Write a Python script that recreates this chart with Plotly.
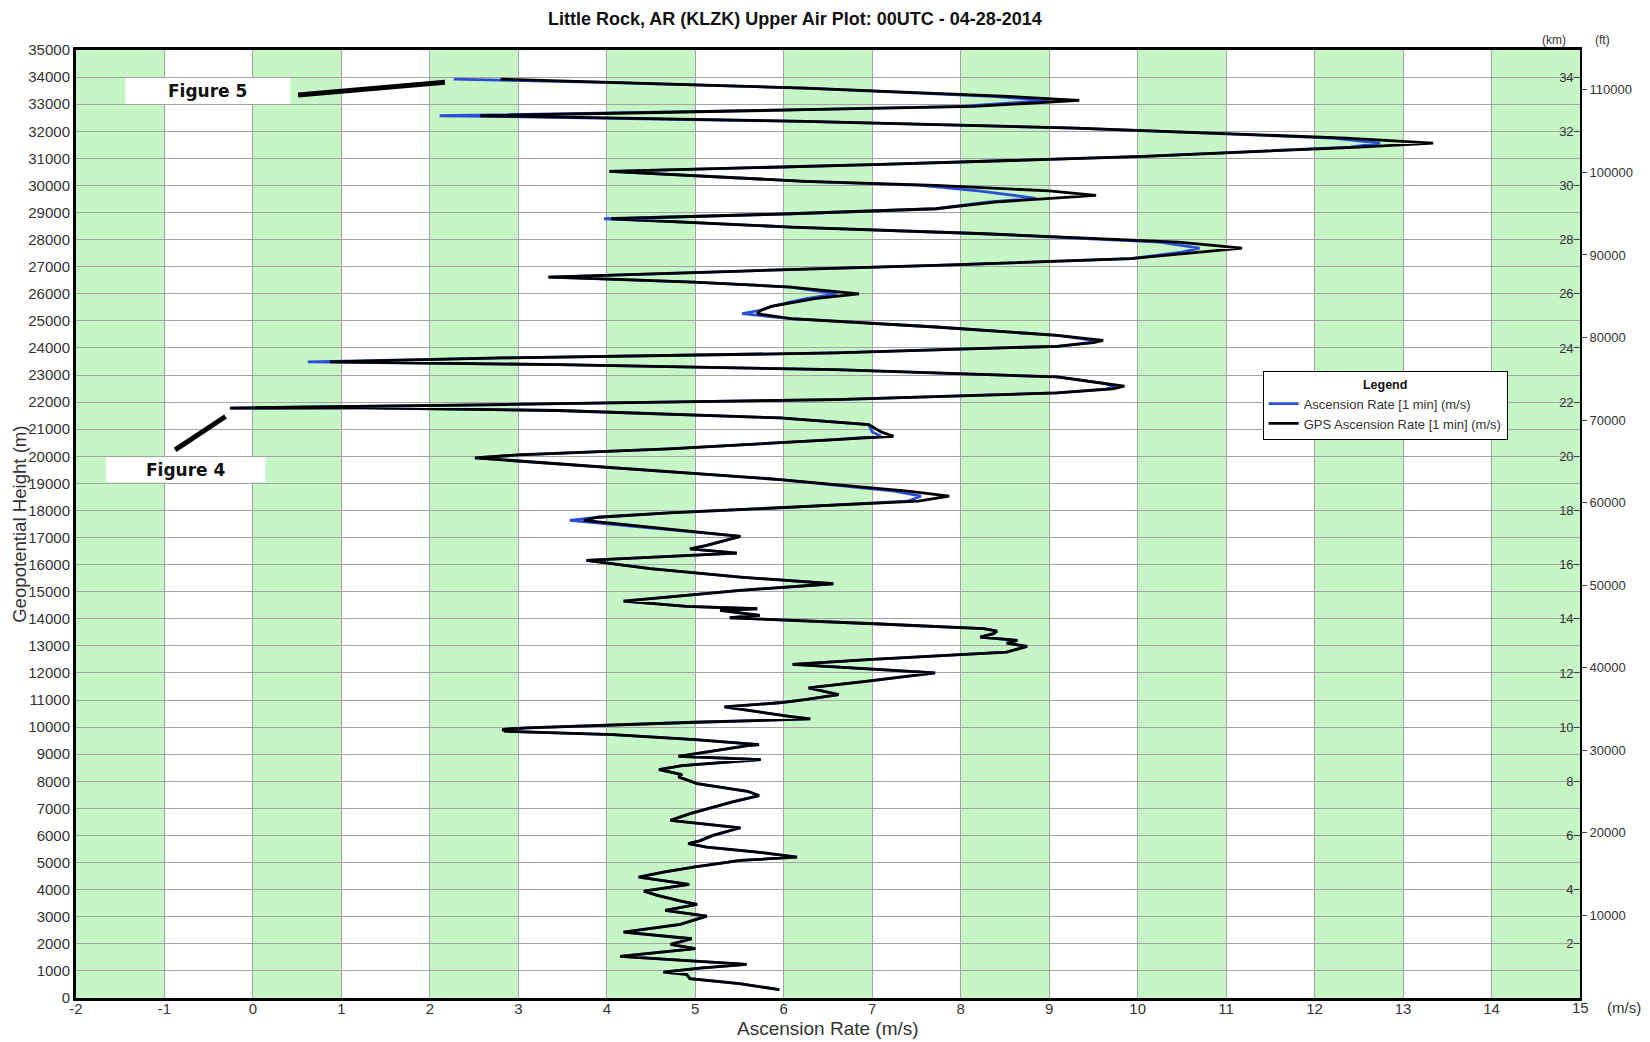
import plotly.graph_objects as go

# ---------------- data ----------------
heights_m = [310, 530, 712, 871, 957, 1100, 1240, 1535, 1820, 1978,
             2188, 2433, 2716, 3024, 3233, 3455, 3566, 3787, 3946, 4193,
             4463, 4647, 4832, 5078, 5200, 5387, 5571, 5700, 5800, 6002,
             6285, 6560, 6809, 7000, 7228, 7474, 7633, 7916, 8162, 8250,
             8433, 8580, 8802, 8925, 9319, 9356, 9540, 9724, 9850, 9920,
             9970, 10180, 10303, 10400, 10745, 10900, 11016, 11200, 11446, 11700,
             12000, 12320, 12500, 12773, 12981, 13100, 13200, 13326, 13450, 13547,
             13636, 13818, 13966, 14039, 14125, 14310, 14371, 14457, 14654, 15048,
             15294, 15540, 15850, 16155, 16426, 16585, 16708, 17040, 17631, 17750,
             17911, 18096, 18342, 18526, 18710, 19141, 19572, 19941, 20050, 20273,
             20617, 20740, 20900, 21170, 21417, 21690, 21786, 21780, 21910, 22094,
             22340, 22487, 22586, 22700, 22930, 23200, 23385, 23483, 23631, 23815,
             24061, 24200, 24280, 24465, 24773, 25080, 25265, 25400, 25535, 25818,
             26000, 26248, 26433, 26556, 26617, 26839, 27048, 27294, 27540, 27688,
             27909, 28216, 28462, 28708, 28770, 28954, 29139, 29385, 29520, 29631,
             29800, 30000, 30150, 30519, 30765, 31073, 31417, 31565, 31749, 32118,
             32364, 32524, 32573, 32795, 32918, 33139, 33287, 33594, 33803, 33926]

gps_rate = [5.95, 5.50, 4.94, 4.90, 4.64, 5.05, 5.58, 4.15, 5.00, 4.72,
            4.96, 4.19, 4.83, 5.13, 4.66, 5.02, 4.85, 4.57, 4.42, 4.93,
            4.36, 4.64, 4.98, 5.51, 6.15, 5.70, 5.13, 4.92, 5.05, 5.20,
            5.51, 4.72, 4.94, 5.15, 5.41, 5.72, 5.59, 5.02, 4.81, 4.85,
            4.59, 4.85, 5.74, 4.81, 5.59, 5.72, 5.00, 4.07, 2.85, 2.82,
            3.10, 5.00, 6.30, 6.06, 5.33, 5.95, 6.24, 6.62, 6.28, 6.95,
            7.71, 6.10, 7.00, 8.52, 8.75, 8.52, 8.64, 8.22, 8.37, 8.41,
            8.26, 7.02, 5.88, 5.39, 5.73, 5.28, 5.70, 4.90, 4.19, 5.51,
            6.56, 5.51, 4.49, 3.77, 5.47, 4.94, 5.13, 5.51, 3.74, 3.90,
            4.70, 5.96, 7.52, 7.87, 7.40, 5.96, 4.07, 2.51, 3.00, 4.70,
            6.58, 7.24, 7.10, 6.96, 5.96, 3.45, 1.25, -0.26, 2.82, 6.58,
            9.09, 9.72, 9.85, 9.60, 9.09, 6.58, 3.45, 0.87, 2.82, 6.58,
            9.09, 9.50, 9.61, 9.09, 7.72, 6.08, 5.70, 5.75, 5.86, 6.35,
            6.85, 6.08, 4.98, 3.89, 3.34, 5.53, 7.72, 9.92, 10.74, 11.18,
            10.46, 8.27, 6.08, 4.44, 4.05, 6.08, 7.72, 8.38, 9.00, 9.53,
            9.00, 7.72, 6.24, 4.03, 7.01, 10.07, 12.51, 13.34, 12.36, 9.30,
            6.24, 3.19, 2.57, 6.24, 8.15, 9.34, 8.54, 6.24, 3.95, 2.80]

asc_rate = [5.95, 5.50, 4.94, 4.90, 4.64, 5.05, 5.58, 4.15, 5.00, 4.72,
            4.96, 4.19, 4.83, 5.13, 4.66, 5.02, 4.85, 4.57, 4.42, 4.93,
            4.36, 4.64, 4.98, 5.51, 6.15, 5.70, 5.13, 4.92, 5.05, 5.20,
            5.51, 4.72, 4.94, 5.15, 5.41, 5.72, 5.59, 5.02, 4.81, 4.85,
            4.59, 4.85, 5.74, 4.81, 5.59, 5.72, 5.00, 4.07, 2.85, 2.82,
            3.10, 5.00, 6.30, 6.06, 5.33, 5.95, 6.24, 6.62, 6.28, 6.95,
            7.71, 6.10, 7.00, 8.52, 8.75, 8.52, 8.64, 8.22, 8.37, 8.41,
            8.26, 7.02, 5.88, 5.39, 5.73, 5.28, 5.70, 4.90, 4.19, 5.51,
            6.56, 5.51, 4.49, 3.77, 5.47, 4.94, 5.13, 5.51, 3.58, 3.90,
            4.70, 5.96, 7.40, 7.55, 7.25, 5.96, 4.07, 2.51, 3.00, 4.70,
            6.58, 7.10, 7.00, 6.96, 5.96, 3.45, 1.25, -0.26, 2.82, 6.58,
            9.09, 9.65, 9.75, 9.60, 9.09, 6.58, 3.45, 0.62, 2.82, 6.58,
            9.09, 9.45, 9.50, 9.09, 7.72, 6.08, 5.53, 5.75, 5.86, 6.25,
            6.60, 6.08, 4.98, 3.89, 3.34, 5.53, 7.72, 9.92, 10.50, 10.70,
            10.25, 8.27, 6.08, 4.44, 3.97, 6.08, 7.72, 8.30, 8.85, 8.60,
            8.20, 7.55, 6.24, 4.03, 7.01, 10.07, 12.40, 12.74, 12.20, 9.30,
            6.24, 3.19, 2.11, 6.24, 8.00, 9.00, 8.35, 6.24, 3.95, 2.27]

x_ticks = list(range(-2, 16))
y_ticks = list(range(0, 35001, 1000))
km_ticks = list(range(2, 35, 2))
ft_ticks = list(range(10000, 110001, 10000))

series_names = ["Ascension Rate [1 min] (m/s)", "GPS Ascension Rate [1 min] (m/s)"]
title_text = "Little Rock, AR (KLZK) Upper Air Plot: 00UTC - 04-28-2014"

# ---------------- styles ----------------
SANS = "Liberation Sans, Arial, sans-serif"
NARROW = "Liberation Sans Narrow, Arial Narrow, Liberation Sans, sans-serif"
TXT = "#333333"
GRID = "#a3a3a3"
GREEN = "#c6f5c6"

fig = go.Figure()
fig.add_trace(go.Scatter(x=asc_rate, y=heights_m, mode="lines", name=series_names[0],
                         line=dict(color="#2b4fd4", width=2.8)))
fig.add_trace(go.Scatter(x=gps_rate, y=heights_m, mode="lines", name=series_names[1],
                         line=dict(color="#000000", width=2.8)))
# helper traces so the secondary (km / ft) axes are rendered
fig.add_trace(go.Scatter(x=[None], y=[None], yaxis="y2", showlegend=False, hoverinfo="skip"))
fig.add_trace(go.Scatter(x=[None], y=[None], yaxis="y3", showlegend=False, hoverinfo="skip"))

shapes = []
for x0 in range(-2, 15, 2):
    shapes.append(dict(type="rect", xref="x", yref="y", x0=x0, x1=x0 + 1, y0=0, y1=35000,
                       fillcolor=GREEN, line=dict(width=0), layer="below"))
# annotation boxes
shapes.append(dict(type="rect", xref="x", yref="y", x0=-1.44, x1=0.42, y0=33010, y1=33970,
                   fillcolor="white", line=dict(width=0), layer="above"))
shapes.append(dict(type="rect", xref="x", yref="y", x0=-1.66, x1=0.14, y0=19040, y1=19965,
                   fillcolor="white", line=dict(width=0), layer="above"))
shapes.append(dict(type="line", xref="x", yref="y", x0=0.51, y0=33340, x1=2.17, y1=33810,
                   line=dict(color="black", width=5), layer="above"))
shapes.append(dict(type="line", xref="x", yref="y", x0=-0.88, y0=20240, x1=-0.31, y1=21470,
                   line=dict(color="black", width=5), layer="above"))

annotations = [
    dict(text="<b>" + title_text + "</b>", xref="paper", yref="paper", x=0.478, y=1.0,
         yshift=31, showarrow=False, font=dict(family=SANS, size=18, color="#111111"),
         xanchor="center", yanchor="middle"),
    dict(text="Ascension Rate (m/s)", xref="paper", yref="paper", x=0.5, y=-0.032,
         showarrow=False, font=dict(family=SANS, size=19, color=TXT),
         xanchor="center", yanchor="middle"),
    dict(text="Geopotential Height (m)", xref="paper", yref="paper", x=-0.038, y=0.5,
         textangle=-90, showarrow=False, font=dict(family=SANS, size=18.6, color=TXT),
         xanchor="center", yanchor="middle"),
    dict(text="(m/s)", xref="paper", yref="paper", x=1.029, y=-0.010,
         showarrow=False, font=dict(family=NARROW, size=15, color=TXT),
         xanchor="center", yanchor="middle"),
    dict(text="(km)", xref="paper", yref="paper", x=(1554 - 76) / 1504, y=1.0, yshift=10,
         showarrow=False, font=dict(family=SANS, size=12, color=TXT),
         xanchor="center", yanchor="middle"),
    dict(text="(ft)", xref="paper", yref="paper", x=(1602 - 76) / 1504, y=1.0, yshift=10,
         showarrow=False, font=dict(family=SANS, size=12, color=TXT),
         xanchor="center", yanchor="middle"),
    # last x tick label (plotly hides it next to the inside km labels)
    dict(text=str(x_ticks[-1]), xref="x", yref="paper", x=x_ticks[-1], y=-0.0095,
         showarrow=False, font=dict(family=NARROW, size=15, color=TXT),
         xanchor="center", yanchor="middle"),
    dict(text="<b>Figure 5</b>", xref="x", yref="y", x=-0.51, y=33490,
         showarrow=False, font=dict(family="DejaVu Sans, Verdana, sans-serif", size=17, color="#111111"),
         xanchor="center", yanchor="middle"),
    dict(text="<b>Figure 4</b>", xref="x", yref="y", x=-0.76, y=19500,
         showarrow=False, font=dict(family="DejaVu Sans, Verdana, sans-serif", size=17, color="#111111"),
         xanchor="center", yanchor="middle"),
]

fig.update_layout(
    width=1650, height=1042,
    margin=dict(l=68, r=78, t=42, b=52),
    paper_bgcolor="white", plot_bgcolor="white",
    font=dict(family=SANS, color=TXT),
    shapes=shapes, annotations=annotations,
    xaxis=dict(range=[-2, 15], tickmode="array", tickvals=x_ticks,
               ticktext=[str(v) for v in x_ticks],
               showgrid=True, gridcolor=GRID, gridwidth=1, zeroline=False,
               showline=True, linecolor="black", linewidth=3, mirror=True,
               ticks="", ticklabeloverflow="allow", ticklabelstandoff=-5,
               tickfont=dict(family=NARROW, size=15, color=TXT)),
    yaxis=dict(range=[0, 35000], tickmode="array", tickvals=y_ticks,
               ticktext=[str(v) for v in y_ticks],
               showgrid=True, gridcolor=GRID, gridwidth=1, zeroline=False,
               showline=True, linecolor="black", linewidth=3,
               ticks="", tickfont=dict(family=SANS, size=15, color=TXT)),
    yaxis2=dict(overlaying="y", side="right", anchor="x", range=[0, 35],
                tickmode="array", tickvals=km_ticks, ticktext=[str(v) for v in km_ticks],
                ticks="inside", ticklen=6, tickcolor="#444444",
                ticklabelposition="inside", showgrid=False, zeroline=False,
                showline=True, linecolor="black", linewidth=2,
                tickfont=dict(family=SANS, size=13, color=TXT)),
    yaxis3=dict(overlaying="y", side="right", anchor="x", range=[0, 35000 * 3.28084],
                tickmode="array", tickvals=ft_ticks, ticktext=[str(v) for v in ft_ticks],
                ticks="outside", ticklen=6, tickcolor="#444444",
                showgrid=False, zeroline=False, showline=False,
                tickfont=dict(family=SANS, size=13, color=TXT)),
    legend=dict(x=0.789, y=0.661, xanchor="left", yanchor="top",
                bgcolor="white", bordercolor="black", borderwidth=1,
                font=dict(family=SANS, size=13, color=TXT),
                title=dict(text="<b>Legend</b>", side="top center",
                           font=dict(family=SANS, size=12.5, color="#111111")),
                tracegroupgap=0, itemwidth=30),
    showlegend=True,
)

fig.write_html("out.html")
